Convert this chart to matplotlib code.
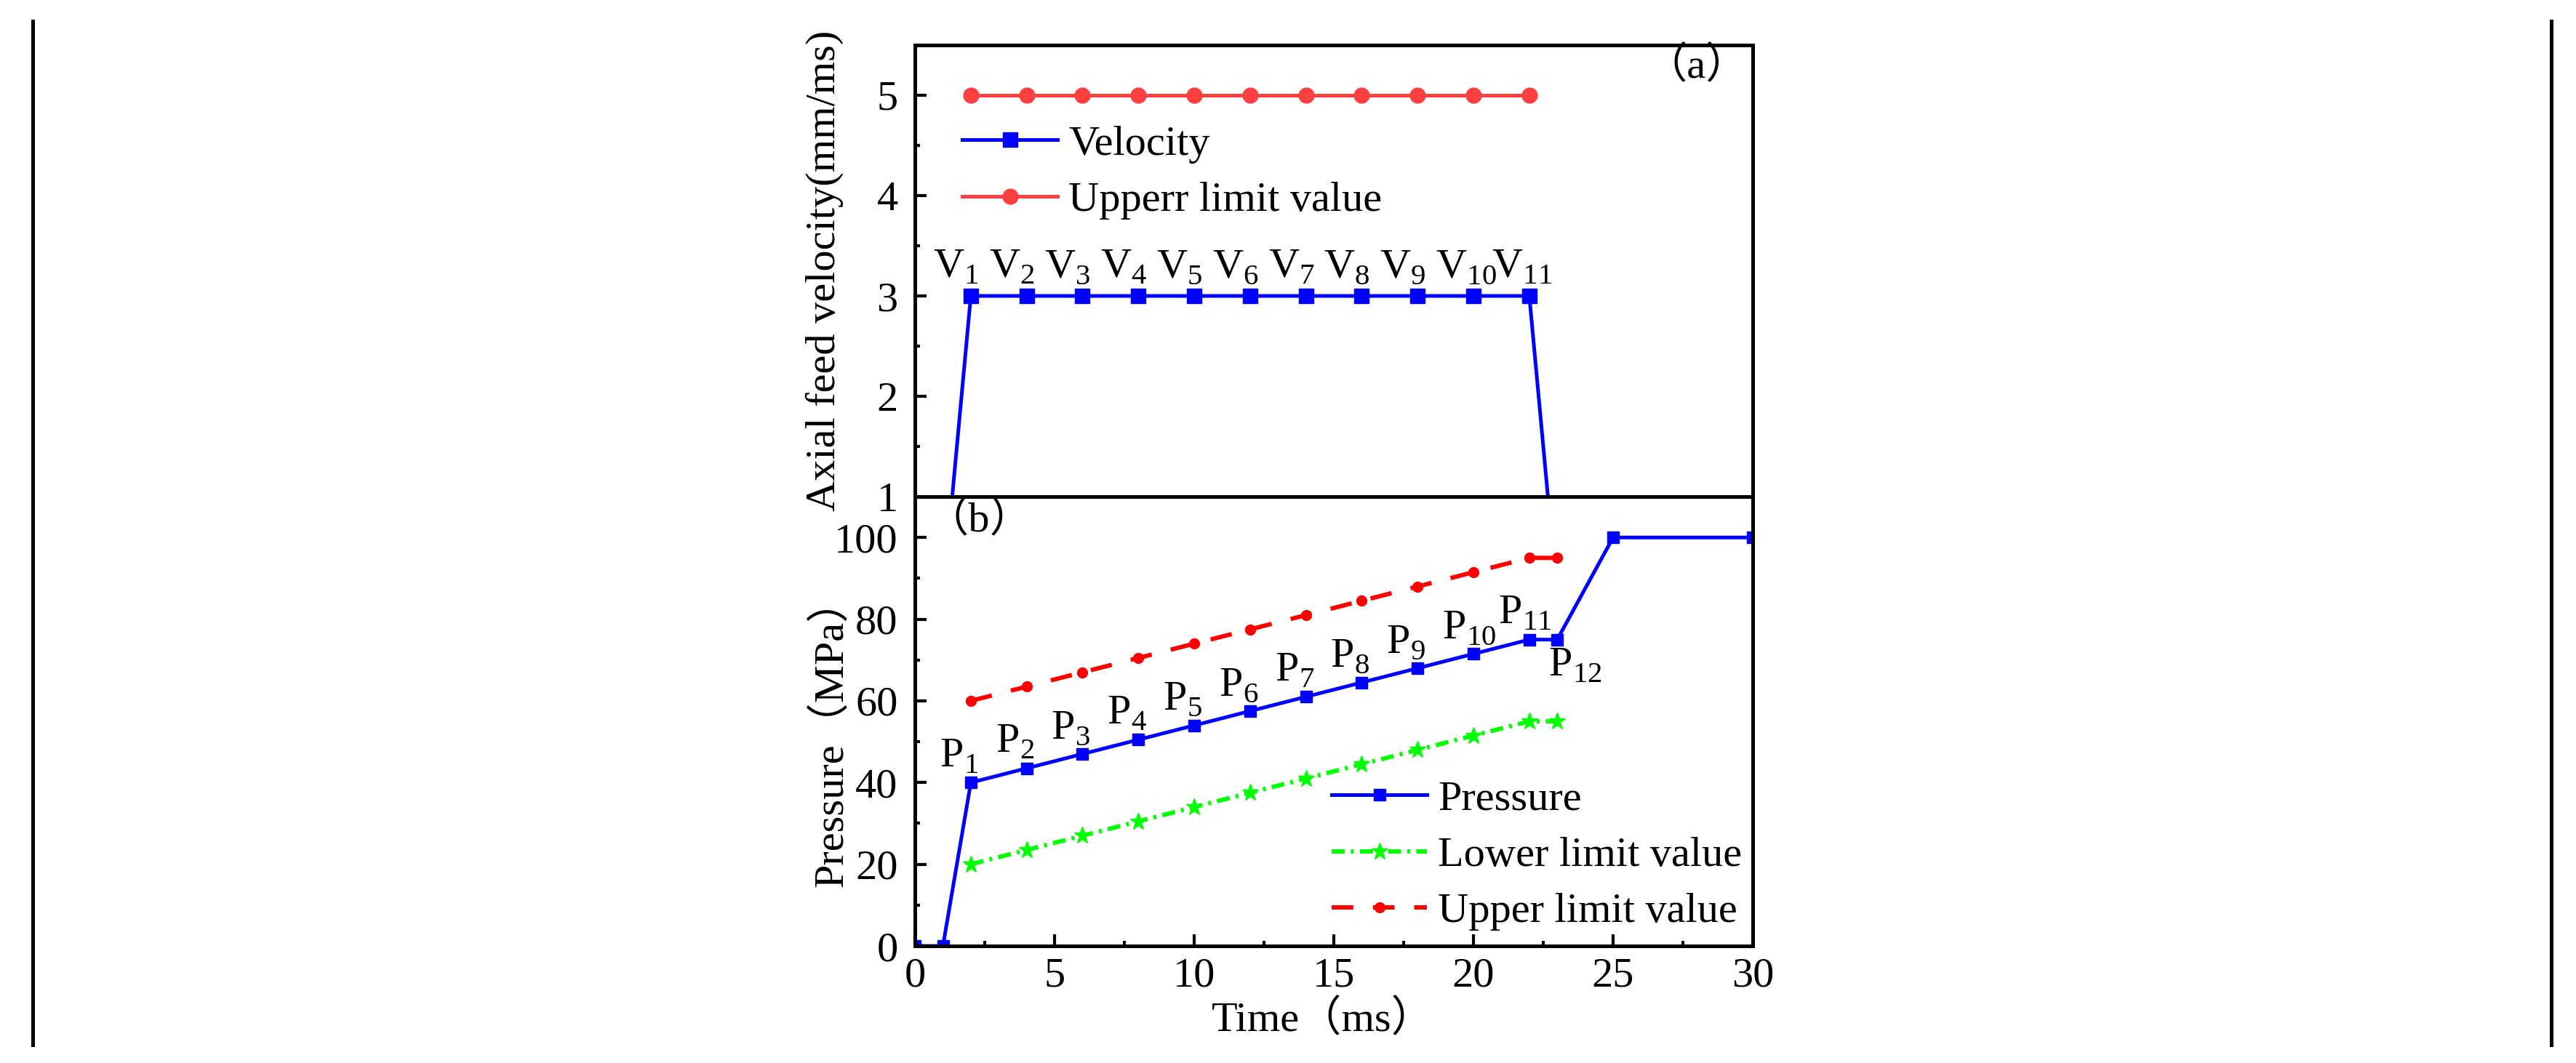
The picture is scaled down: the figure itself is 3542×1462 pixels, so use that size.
import numpy as np
import matplotlib
matplotlib.use('Agg')
import matplotlib.pyplot as plt
from matplotlib.lines import Line2D
from matplotlib.ticker import MultipleLocator

plt.rcParams['font.family'] = ['Liberation Serif', 'Noto Sans CJK SC']
plt.rcParams['mathtext.fontset'] = 'custom'
plt.rcParams['mathtext.rm'] = 'Liberation Serif'
plt.rcParams['font.size'] = 42

# (a) axial feed velocity
t_vel = [1, 2, 4, 6, 8, 10, 12, 14, 16, 18, 20, 22, 23]
velocity = [0, 3, 3, 3, 3, 3, 3, 3, 3, 3, 3, 3, 0]
t_vlim = [2, 4, 6, 8, 10, 12, 14, 16, 18, 20, 22]
vel_upper = [5, 5, 5, 5, 5, 5, 5, 5, 5, 5, 5]
v_labels = ["V$_{%d}$" % i for i in range(1, 12)]

# (b) pressure
t_p = [0, 1, 2, 4, 6, 8, 10, 12, 14, 16, 18, 20, 22, 23, 25, 30]
pressure = [0, 0, 40, 43.5, 47, 50.5, 54, 57.5, 61, 64.5, 68, 71.5, 75, 75, 100, 100]
t_band = [2, 4, 6, 8, 10, 12, 14, 16, 18, 20, 22, 23]
p_lower = [20, 23.5, 27, 30.5, 34, 37.5, 41, 44.5, 48, 51.5, 55, 55]
p_upper = [60, 63.5, 67, 70.5, 74, 77.5, 81, 84.5, 88, 91.5, 95, 95]
p_labels = ["P$_{%d}$" % i for i in range(1, 13)]

fig = plt.figure(figsize=(35.42, 14.62), dpi=100)
ax1 = fig.add_axes([0.3552, 0.5328, 0.3252, 0.4248])
ax2 = fig.add_axes([0.3552, 0.1101, 0.3252, 0.4227])

# border lines left and right of the figure
for xf in [45 / 3542, 3508 / 3542]:
    fig.add_artist(Line2D([xf, xf], [1 - 29 / 1462, 1 - 1437 / 1462],
                          transform=fig.transFigure, color='black', lw=3.6))

# ---- panel (a)
ax1.plot(t_vel, velocity, color='#0000ff', lw=3.6, marker='s', ms=14, label='Velocity')
ax1.plot(t_vlim, vel_upper, color='#ff4040', lw=3.6, marker='o', ms=15, label='Upperr limit value')
for x, lab in zip(t_vlim, v_labels):
    ax1.annotate(lab, (x, 3), xytext=(-52, 14), textcoords='offset pixels',
                 ha='left', va='bottom')
ax1.set_xlim(0, 30)
ax1.set_ylim(1, 5.5)
ax1.yaxis.set_major_locator(MultipleLocator(1))
ax1.yaxis.set_minor_locator(MultipleLocator(0.5))
ax1.tick_params(axis='x', which='both', bottom=False, labelbottom=False)
ax1.tick_params(axis='y', which='major', direction='in', length=11.5, width=3, pad=17)
ax1.tick_params(axis='y', which='minor', direction='in', length=5, width=3)
ax1.text(-0.108, 0.5, 'Axial feed velocity(mm/ms)', transform=ax1.transAxes,
         rotation=90, ha='center', va='center')
ax1.text(0.933, 0.952, '（a）', transform=ax1.transAxes, ha='center', va='center')
ax1.legend(loc='upper left', bbox_to_anchor=(0.056, 0.823), frameon=False,
           borderpad=0, borderaxespad=0, handlelength=2.26, handletextpad=0.25,
           labelspacing=0.42, numpoints=1)

# ---- panel (b)
ax2.plot(t_p, pressure, color='#0000ff', lw=3.6, marker='s', ms=12, label='Pressure')
ax2.plot(t_band, p_lower, color='#00ff00', lw=4.3, marker='*', ms=17,
         dashes=(3, 1.4, 0.7, 1.4), label='Lower limit value')
ax2.plot(t_band, p_upper, color='#ff0000', lw=4.3, marker='o', ms=10,
         dashes=(5, 4.5), label='Upper limit value')
for x, y, lab in zip(t_p[2:13], pressure[2:13], p_labels[:11]):
    ax2.annotate(lab, (x, y), xytext=(-43, 10), textcoords='offset pixels',
                 ha='left', va='bottom')
ax2.annotate(p_labels[11], (t_p[13], pressure[13]), xytext=(-12, -10),
             textcoords='offset pixels', ha='left', va='top')
ax2.set_xlim(0, 30)
ax2.set_ylim(0, 110)
ax2.xaxis.set_major_locator(MultipleLocator(5))
ax2.xaxis.set_minor_locator(MultipleLocator(2.5))
ax2.yaxis.set_major_locator(MultipleLocator(20))
ax2.yaxis.set_minor_locator(MultipleLocator(10))
ax2.tick_params(axis='y', which='major', direction='in', length=11.5, width=3, pad=17)
ax2.tick_params(axis='y', which='minor', direction='in', length=5, width=3)
ax2.tick_params(axis='x', which='major', direction='in', length=11.5, width=3, pad=11)
ax2.tick_params(axis='x', which='minor', direction='in', length=5, width=3)
ax2.text(-0.100, 0.474, 'Pressure（MPa）', transform=ax2.transAxes,
         rotation=90, ha='center', va='center')
ax2.text(0.487, -0.165, 'Time（ms）', transform=ax2.transAxes, ha='center', va='center')
ax2.text(0.077, 0.948, '（b）', transform=ax2.transAxes, ha='center', va='center')
ax2.legend(loc='upper left', bbox_to_anchor=(0.497, 0.369), frameon=False,
           borderpad=0, borderaxespad=0, handlelength=2.26, handletextpad=0.25,
           labelspacing=0.42, numpoints=1)

for ax in (ax1, ax2):
    for sp in ax.spines.values():
        sp.set_linewidth(3.6)

fig.savefig('out.png', dpi=100)
plt.close()
